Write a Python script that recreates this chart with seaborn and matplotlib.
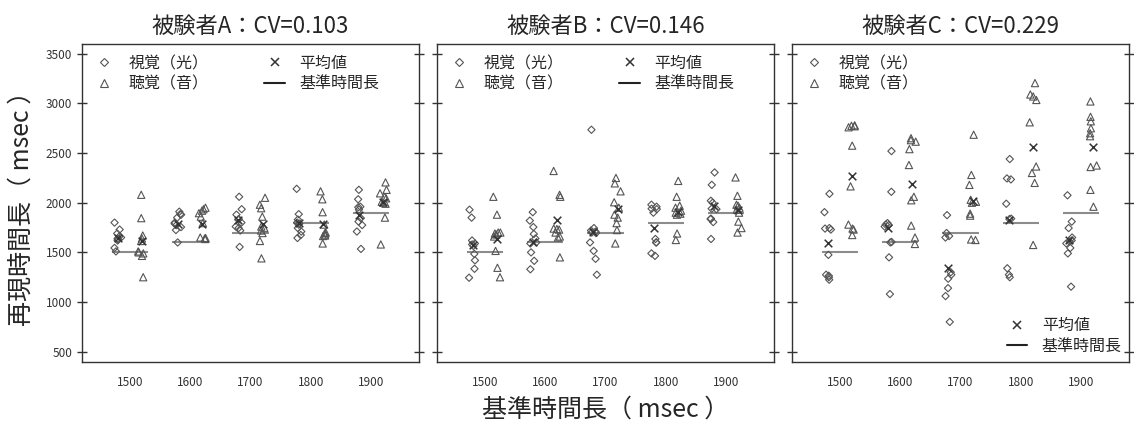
import numpy as np
import pandas as pd
import matplotlib.pyplot as plt
import seaborn as sns
from matplotlib.lines import Line2D

baselines = [1500, 1600, 1700, 1800, 1900]
subjects = ["A", "B", "C"]
cv_values = ["0.103", "0.146", "0.229"]
modalities = ["視覚（光）", "聴覚（音）"]

# reproduced durations (msec), one list per baseline
a_visual = [
    [1800, 1730, 1690, 1660, 1650, 1630, 1620, 1545, 1510, 1640],
    [1910, 1885, 1850, 1800, 1775, 1755, 1725, 1600, 1880, 1790],
    [2060, 1935, 1880, 1835, 1800, 1760, 1745, 1720, 1555, 1830],
    [2140, 1885, 1830, 1780, 1745, 1710, 1675, 1645, 1790, 1800],
    [2130, 2035, 1960, 1955, 1930, 1845, 1810, 1775, 1710, 1535],
]
a_audio = [
    [2080, 1845, 1670, 1640, 1615, 1510, 1500, 1490, 1465, 1250],
    [1950, 1935, 1895, 1860, 1795, 1650, 1645, 1635, 1640, 1920],
    [2050, 1980, 1945, 1860, 1745, 1695, 1615, 1440, 1760, 1720],
    [2115, 2035, 1905, 1695, 1680, 1665, 1590, 1670, 1700, 1780],
    [2205, 2130, 2095, 2045, 2010, 2000, 1990, 1850, 1580, 2060],
]
b_visual = [
    [1930, 1850, 1590, 1580, 1565, 1485, 1420, 1335, 1245, 1620],
    [1905, 1820, 1755, 1685, 1640, 1600, 1590, 1500, 1415, 1330],
    [2735, 1745, 1720, 1710, 1695, 1600, 1515, 1435, 1275, 1700],
    [1980, 1960, 1935, 1940, 1900, 1635, 1600, 1490, 1465, 1600],
    [2305, 2180, 2020, 2000, 1935, 1840, 1835, 1805, 1635, 1940],
]
b_audio = [
    [2060, 1880, 1700, 1680, 1660, 1515, 1345, 1250, 1700, 1690],
    [2320, 2080, 2060, 1735, 1730, 1660, 1650, 1450, 1740, 1700],
    [2250, 2195, 2115, 2005, 1950, 1880, 1795, 1725, 1590, 1850],
    [2220, 2060, 1970, 1950, 1900, 1880, 1690, 1625, 1920, 1890],
    [2255, 2070, 1980, 1970, 1930, 1810, 1745, 1700, 1950, 1900],
]
c_visual = [
    [2090, 1905, 1745, 1730, 1475, 1275, 1250, 1225, 1265, 1740],
    [2520, 2110, 1795, 1775, 1760, 1605, 1600, 1450, 1080, 1780],
    [1875, 1695, 1665, 1650, 1275, 1235, 1140, 1060, 800, 1300],
    [2440, 2245, 2235, 1990, 1840, 1835, 1340, 1275, 1250],
    [2075, 1810, 1745, 1650, 1620, 1590, 1545, 1490, 1155, 1610],
]
c_audio = [
    [2775, 2770, 2760, 2575, 2165, 1780, 1730, 1675, 2780, 1740],
    [2650, 2615, 2540, 2380, 2060, 2025, 1770, 1585, 2630, 1650],
    [2685, 2280, 2180, 2030, 2010, 2000, 1890, 1630, 1625, 1870],
    [3205, 3090, 3035, 3070, 2810, 2365, 2300, 2200, 1575],
    [3020, 2865, 2820, 2750, 2700, 2670, 2375, 2130, 1960, 2360],
]

# mean values (x marks)
a_visual_mean = [1640, 1783, 1827, 1793, 1878]
a_audio_mean = [1615, 1783, 1783, 1783, 2012]
b_visual_mean = [1578, 1609, 1710, 1743, 1968]
b_audio_mean = [1632, 1827, 1935, 1904, 1928]
c_visual_mean = [1592, 1743, 1345, 1830, 1626]
c_audio_mean = [2270, 2190, 2019, 2562, 2566]

visual = [a_visual, b_visual, c_visual]
audio = [a_audio, b_audio, c_audio]
visual_mean = [a_visual_mean, b_visual_mean, c_visual_mean]
audio_mean = [a_audio_mean, b_audio_mean, c_audio_mean]

rows, mean_rows = [], []
for s, vis, aud, vm, am in zip(subjects, visual, audio, visual_mean, audio_mean):
    for b, vv, aa, m1, m2 in zip(baselines, vis, aud, vm, am):
        rows += [(s, str(b), modalities[0], v) for v in vv]
        rows += [(s, str(b), modalities[1], v) for v in aa]
        mean_rows += [(s, str(b), modalities[0], m1), (s, str(b), modalities[1], m2)]
df = pd.DataFrame(rows, columns=["subject", "baseline", "modality", "value"])
means = pd.DataFrame(mean_rows, columns=["subject", "baseline", "modality", "value"])

sns.set_theme(style="white")
plt.rcParams["font.family"] = ["Noto Sans CJK JP", "DejaVu Sans"]
np.random.seed(7)

order = [str(b) for b in baselines]
edge = "#555555"

fig, axes = plt.subplots(1, 3, figsize=(11.34, 4.3), dpi=100, sharey=True)
fig.subplots_adjust(left=0.0723, right=0.9956, bottom=0.159, top=0.898, wspace=0.0534)

for ax, s, cv in zip(axes, subjects, cv_values):
    sub = df[df["subject"] == s]
    for mod, mk, sz in [(modalities[0], "D", 3.7), (modalities[1], "^", 5.2)]:
        sns.stripplot(data=sub[sub["modality"] == mod], x="baseline", y="value",
                      hue="modality", hue_order=modalities, order=order,
                      dodge=True, jitter=0.12, marker=mk, size=sz,
                      palette=["white", "white"], edgecolor=edge, linewidth=0.8,
                      legend=False, ax=ax)
    for coll in ax.collections:
        coll.set_facecolor("none")
    sns.stripplot(data=means[means["subject"] == s], x="baseline", y="value",
                  hue="modality", hue_order=modalities, order=order,
                  dodge=True, jitter=False, marker="x", size=5.5,
                  palette=["#333333", "#333333"], edgecolor="#333333", linewidth=1.1,
                  legend=False, ax=ax, zorder=4)
    pos = np.arange(len(baselines))
    ax.hlines(baselines, pos - 0.3, pos + 0.3, color="#8c8c8c", lw=1.5, zorder=2)

    ax.set_xlim(-0.79, 4.79)
    ax.set_ylim(400, 3600)
    ax.set_yticks(range(500, 3501, 500))
    ax.set_xlabel("")
    ax.set_ylabel("")
    ax.set_title(f"被験者{s}：CV={cv}", fontsize=16, pad=8)
    ax.tick_params(axis="y", direction="inout", length=7, width=1, color="#333333",
                   left=True, right=True, labelsize=8.5, labelcolor="#333333")
    ax.tick_params(axis="x", length=0, pad=10, labelsize=8.5, labelcolor="#333333")
    for sp in ax.spines.values():
        sp.set_color("#333333")
        sp.set_linewidth(1)

h_vis = Line2D([], [], marker="D", ls="", mfc="none", mec=edge, ms=3.7, mew=0.8)
h_aud = Line2D([], [], marker="^", ls="", mfc="none", mec=edge, ms=5.2, mew=0.8)
h_mean = Line2D([], [], marker="x", ls="", color="#333333", ms=5.5, mew=1.1)
h_ref = Line2D([], [], color="#222222", lw=1.5)
leg_kw = dict(frameon=False, fontsize=11.5, handlelength=1.3, handletextpad=0.9,
              labelspacing=0.2, borderaxespad=0.3)

for ax in axes[:2]:
    ax.legend([h_vis, h_aud, h_mean, h_ref], modalities + ["平均値", "基準時間長"],
              ncol=2, loc="upper left", columnspacing=3.5, **leg_kw)

leg1 = axes[2].legend([h_vis, h_aud], modalities, loc="upper left", **leg_kw)
axes[2].add_artist(leg1)
leg_kw["borderaxespad"] = 0.05
axes[2].legend([h_mean, h_ref], ["平均値", "基準時間長"], loc="lower right", **leg_kw)

axes[0].set_ylabel("再現時間長（ msec ）", fontsize=18, labelpad=8)
axes[1].set_xlabel("基準時間長（ msec ）", fontsize=18, labelpad=6)

fig.savefig("out.png", dpi=100)
